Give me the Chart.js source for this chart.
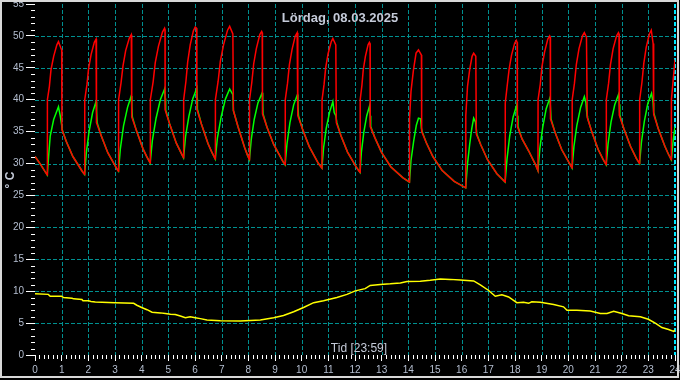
<!DOCTYPE html>
<html><head><meta charset="utf-8">
<script src="https://cdn.jsdelivr.net/npm/chart.js@4/dist/chart.umd.min.js"></script>
<style>html,body{margin:0;padding:0;background:#000;}#wrap{width:680px;height:380px;}</style>
</head><body><div id="wrap"><canvas id="c" width="680" height="380"></canvas></div>
<script>
const titleText = 'Lördag, 08.03.2025';
const xAxisText = 'Tid [23:59]';
const yAxisText = '° C';
const hourTicks = [0,1,2,3,4,5,6,7,8,9,10,11,12,13,14,15,16,17,18,19,20,21,22,23,24];
const tempGridValues = [5,10,15,20,25,30,35,40,45,50];

// red series [hour, °C]
const redSeries = [
[0,31.1],[0.2,29.9],[0.46,28.2],
[0.465,40],[0.54,42.1],[0.6,44.7],[0.7,46.8],[0.82,48.6],[0.88,49.1],[0.97,48.1],[1.0,47.8],[1.01,35.3],
[1.17,33.5],[1.42,31.1],[1.77,28.8],[1.86,28.3],
[1.865,40],[1.95,42.4],[2.01,44.9],[2.105,47.1],[2.225,49.0],[2.29,49.5],[2.3,49.3],[2.31,36.4],
[2.48,34.4],[2.73,31.7],[3.08,29.1],[3.13,28.8],
[3.135,40],[3.225,42.6],[3.3,45.3],[3.4,47.7],[3.54,49.7],[3.61,50.2],[3.625,50.0],[3.63,37.3],
[3.8,35.2],[4.05,32.3],[4.2,31.0],[4.32,30.1],
[4.325,40],[4.43,42.8],[4.51,45.8],[4.63,48.4],[4.78,50.6],[4.86,51.2],[4.875,51.0],[4.88,38.4],
[5.05,36.2],[5.3,33.2],[5.45,31.9],[5.57,30.9],
[5.575,40],[5.66,42.9],[5.725,45.9],[5.82,48.6],[5.94,50.8],[6.01,51.4],[6.06,51.2],[6.07,38.5],
[6.24,36.2],[6.49,33.1],[6.64,31.7],[6.76,30.7],
[6.765,40],[6.868,42.9],[6.95,46.0],[7.07,48.6],[7.22,50.9],[7.3,51.5],[7.42,50.3],[7.44,38.3],
[7.61,35.8],[7.86,32.5],[7.96,31.4],[8.04,30.6],
[8.045,40],[8.13,42.7],[8.2,45.6],[8.3,48.0],[8.43,50.2],[8.5,50.7],[8.52,50.5],[8.53,37.8],
[8.7,35.7],[8.95,33.0],[9.3,30.3],[9.38,29.8],
[9.385,40],[9.47,42.6],[9.54,45.5],[9.64,47.9],[9.76,50.0],[9.83,50.5],[9.85,50.3],[9.86,37.5],
[10.03,35.4],[10.28,32.7],[10.63,30.0],[10.76,29.3],
[10.765,40],[10.84,42.4],[10.9,45.0],[10.99,47.2],[11.11,49.1],[11.17,49.6],[11.28,48.6],[11.3,36.4],
[11.47,34.4],[11.72,31.8],[12.07,29.3],[12.19,28.6],
[12.195,40],[12.26,42.3],[12.31,44.7],[12.39,46.8],[12.49,48.6],[12.54,49.0],[12.565,48.8],[12.57,35.8],
[12.74,34.1],[12.99,31.8],[13.34,29.5],[13.79,27.8],[14.04,27.1],
[14.045,37],[14.1,41.3],[14.19,44.6],[14.29,47.3],[14.38,47.8],[14.45,47.3],[14.49,47.0],[14.5,35.0],
[14.67,33.3],[14.92,31.1],[15.27,28.9],[15.72,27.2],[16.15,26.2],
[16.155,37.5],[16.22,42.1],[16.3,44.7],[16.39,46.8],[16.45,47.3],[16.53,46.8],[16.55,34.6],
[16.72,32.9],[16.97,30.6],[17.32,28.4],[17.63,27.1],
[17.635,39.5],[17.71,42.3],[17.78,44.8],[17.87,47.0],[17.99,48.9],[18.05,49.3],[18.08,49.0],[18.09,35.8],
[18.26,33.9],[18.51,32.0],[18.75,30.0],[18.86,28.9],
[18.865,40],[18.95,42.5],[19.01,45.2],[19.11,47.5],[19.23,49.5],[19.3,50.0],[19.32,49.8],[19.33,37.0],
[19.5,34.9],[19.75,32.2],[20.1,29.6],[20.14,29.3],
[20.145,40],[20.23,42.6],[20.3,45.5],[20.4,48.0],[20.53,50.0],[20.6,50.5],[20.68,49.8],[20.71,37.2],
[20.87,35.1],[21.12,32.2],[21.3,30.7],[21.42,29.8],
[21.425,40],[21.51,42.6],[21.58,45.5],[21.68,48.0],[21.81,50.0],[21.88,50.5],[21.9,50.3],[21.91,37.6],
[22.08,35.5],[22.33,32.7],[22.55,30.8],[22.67,30.0],
[22.675,40],[22.76,42.7],[22.83,45.7],[22.92,48.2],[23.04,50.3],[23.11,50.9],[23.18,48.8],[23.2,37.7],
[23.37,35.5],[23.62,32.7],[23.75,31.5],[23.86,30.6],
[23.865,40],[23.93,43.0],[24.0,46.3]
];

// green series [hour, °C]
const greenSeries = [
[0,31.1],[0.2,29.9],[0.46,28.2],
[0.51,31.1],[0.57,34.3],[0.7,36.9],[0.88,38.9],[0.95,37.4],[1.0,36.0],[1.02,35.3],
[1.17,33.5],[1.42,31.1],[1.77,28.8],[1.86,28.3],
[1.925,31.7],[2.03,35.1],[2.16,38.0],[2.29,39.7],[2.31,38.2],[2.33,36.4],
[2.48,34.4],[2.73,31.7],[3.08,29.1],[3.13,28.8],
[3.2,32.3],[3.32,35.9],[3.47,38.8],[3.61,40.6],[3.63,39.0],[3.65,37.3],
[3.8,35.2],[4.05,32.3],[4.2,31.0],[4.32,30.1],
[4.4,33.6],[4.54,37.1],[4.7,40.0],[4.86,41.7],[4.88,40.2],[4.9,38.4],
[5.05,36.2],[5.3,33.2],[5.45,31.9],[5.57,30.9],
[5.645,34.2],[5.77,37.4],[5.92,40.2],[6.07,41.8],[6.08,40.2],[6.09,38.5],
[6.24,36.2],[6.49,33.1],[6.64,31.7],[6.76,30.7],
[6.84,34.0],[6.98,37.3],[7.14,40.1],[7.3,41.7],[7.42,40.8],[7.44,38.3],
[7.61,35.8],[7.86,32.5],[7.96,31.4],[8.04,30.6],
[8.11,33.8],[8.22,36.9],[8.36,39.5],[8.52,41.1],[8.54,39.5],[8.55,37.8],
[8.7,35.7],[8.95,33.0],[9.3,30.3],[9.38,29.8],
[9.45,33.1],[9.56,36.4],[9.7,39.2],[9.84,40.8],[9.86,39.2],[9.88,37.5],
[10.03,35.4],[10.28,32.7],[10.63,30.0],[10.76,29.3],
[10.82,32.4],[10.92,35.5],[11.05,38.1],[11.17,39.7],[11.22,38.0],[11.28,37.5],[11.32,36.4],
[11.47,34.4],[11.72,31.8],[12.07,29.3],[12.19,28.6],
[12.24,31.8],[12.33,34.9],[12.44,37.5],[12.55,39.1],[12.57,37.5],[12.59,35.8],
[12.74,34.1],[12.99,31.8],[13.34,29.5],[13.79,27.8],[14.04,27.1],
[14.1,30.5],[14.2,33.5],[14.3,36.0],[14.38,37.1],[14.46,37.0],[14.49,35.5],[14.52,35.0],
[14.67,33.3],[14.92,31.1],[15.27,28.9],[15.72,27.2],[16.15,26.2],
[16.22,30.0],[16.3,33.0],[16.38,35.5],[16.45,37.1],[16.52,36.5],[16.57,34.6],
[16.72,32.9],[16.97,30.6],[17.32,28.4],[17.63,27.1],
[17.7,30.7],[17.8,34.3],[17.93,37.3],[18.06,39.1],[18.09,37.5],[18.11,35.8],
[18.26,33.9],[18.51,32.0],[18.75,30.0],[18.86,28.9],
[18.93,32.3],[19.04,35.7],[19.17,38.6],[19.31,40.3],[19.33,38.7],[19.35,37.0],
[19.5,34.9],[19.75,32.2],[20.1,29.6],[20.14,29.3],
[20.21,32.7],[20.32,36.0],[20.46,38.8],[20.6,40.5],[20.66,39.5],[20.7,37.5],[20.72,37.2],
[20.87,35.1],[21.12,32.2],[21.3,30.7],[21.42,29.8],
[21.49,33.1],[21.6,36.5],[21.74,39.2],[21.89,40.9],[21.91,39.3],[21.93,37.6],
[22.08,35.5],[22.33,32.7],[22.55,30.8],[22.67,30.0],
[22.74,33.3],[22.85,36.6],[22.98,39.4],[23.12,41.0],[23.18,39.5],[23.2,38.0],[23.22,37.7],
[23.37,35.5],[23.62,32.7],[23.75,31.5],[23.86,30.6],
[23.93,33.5],[24.0,35.8]
];

// yellow series [hour, °C]
const yellowSeries = [
[0,9.6],[0.5,9.5],[0.57,9.2],[1.0,9.2],[1.07,9.0],[1.39,8.9],[1.45,8.8],[1.76,8.7],[1.8,8.5],[2.01,8.5],
[2.1,8.4],[2.26,8.3],[3.0,8.2],[3.7,8.1],[3.82,7.8],[4.0,7.45],[4.2,7.1],[4.39,6.7],[4.7,6.6],[4.89,6.5],
[5.08,6.4],[5.26,6.35],[5.45,6.1],[5.64,5.85],[5.82,6.0],[6.01,5.85],[6.2,5.7],[6.45,5.5],[6.95,5.37],[7.7,5.33],
[8.45,5.5],[8.95,5.85],[9.32,6.2],[9.7,6.77],[10.07,7.45],[10.45,8.2],[10.82,8.5],[11.32,9.0],[11.7,9.5],[12.01,10.05],
[12.38,10.4],[12.57,10.9],[12.95,11.05],[13.32,11.15],[13.7,11.3],[13.95,11.5],[14.45,11.55],[14.82,11.7],[15.2,11.9],[15.57,11.85],
[15.95,11.75],[16.45,11.6],[16.7,11.0],[17.0,10.15],[17.26,9.2],[17.51,9.45],[17.76,9.1],[18.07,8.2],[18.32,8.25],[18.51,8.1],
[18.63,8.35],[18.95,8.25],[19.45,7.9],[19.82,7.55],[19.95,7.0],[20.32,7.0],[20.82,6.9],[21.2,6.5],[21.45,6.5],[21.7,6.85],
[22.01,6.5],[22.26,6.15],[22.7,6.0],[23.0,5.6],[23.26,5.0],[23.51,4.3],[23.76,4.0],[23.95,3.7],[24,3.9]
];

const toPts = s => s.map(p => ({x: p[0], y: p[1]}));
const labelColor = '#b4bed0';
const gridColor = '#009090';
const fontFam = '"Liberation Sans", Arial, sans-serif';

const extras = {
  id: 'extras',
  beforeDraw(chart) {
    const c = chart.ctx;
    c.save(); c.fillStyle = '#000'; c.fillRect(0, 0, chart.width, chart.height); c.restore();
  },
  beforeDatasetsDraw(chart) {
    const c = chart.ctx, a = chart.chartArea, xs = chart.scales.x, ys = chart.scales.y;
    c.save();
    c.lineWidth = 1; c.setLineDash([4, 2]);
    c.strokeStyle = gridColor;
    c.beginPath();
    tempGridValues.forEach(v => {
      const py = Math.round(ys.getPixelForValue(v)) + 0.5;
      c.moveTo(a.left, py); c.lineTo(a.right, py);
    });
    hourTicks.forEach(h => {
      if (h === 0 || h === 24) return;
      const px = Math.round(xs.getPixelForValue(h)) + 0.5;
      c.moveTo(px, a.top); c.lineTo(px, a.bottom);
    });
    c.stroke();
    c.strokeStyle = '#00e8ff'; c.lineWidth = 2;
    c.beginPath();
    const pe = Math.round(xs.getPixelForValue(24));
    c.moveTo(pe, a.top); c.lineTo(pe, a.bottom);
    c.stroke();
    c.restore();
  },
  afterDraw(chart) {
    const c = chart.ctx, a = chart.chartArea, xs = chart.scales.x, ys = chart.scales.y;
    c.save();
    // minor ticks
    c.strokeStyle = '#ffffff'; c.lineWidth = 1; c.beginPath();
    for (let v = 0; v <= 55; v++) {
      if (v % 5 === 0) continue;
      const py = Math.round(ys.getPixelForValue(v)) + 0.5;
      c.moveTo(a.left - 4, py); c.lineTo(a.left, py);
    }
    for (let i = 0; i <= 144; i++) {
      if (i % 6 === 0) continue;
      const px = Math.round(xs.getPixelForValue(i / 6)) + 0.5;
      c.moveTo(px, a.bottom); c.lineTo(px, a.bottom + 4);
    }
    c.stroke();
    // texts
    c.fillStyle = '#c4cad8';
    c.textAlign = 'center'; c.textBaseline = 'middle';
    c.font = 'bold 13px ' + fontFam;
    c.fillText(titleText, 340, 18);
    c.font = '12px ' + fontFam;
    c.fillText(xAxisText, (a.left + a.right) / 2 + 4, 349);
    c.save();
    c.translate(11, 180); c.rotate(-Math.PI / 2);
    c.font = 'bold 12px ' + fontFam;
    c.fillText(yAxisText, 0, 0);
    c.restore();
    // frame
    c.strokeStyle = '#d8d8d8'; c.lineWidth = 2;
    c.strokeRect(1, 1, chart.width - 3, chart.height - 4);
    c.restore();
  }
};

new Chart(document.getElementById('c'), {
  type: 'line',
  data: {
    datasets: [
      {data: toPts(redSeries), borderColor: '#ff0000', borderWidth: 1.5, pointRadius: 0, tension: 0},
      {data: toPts(greenSeries), borderColor: '#00ff00', borderWidth: 1.5, pointRadius: 0, tension: 0},
      {data: toPts(yellowSeries), borderColor: '#ffff00', borderWidth: 1.5, pointRadius: 0, tension: 0}
    ]
  },
  options: {
    responsive: false, animation: false, devicePixelRatio: 1,
    parsing: false, normalized: true,
    layout: {padding: {top: 4, right: 5, left: 0, bottom: 0}},
    plugins: {legend: {display: false}, tooltip: {enabled: false}, title: {display: false}},
    scales: {
      x: {
        type: 'linear', min: 0, max: 24,
        afterFit(s) { s.height = 25; s.paddingLeft = 0; s.paddingRight = 0; },
        afterBuildTicks(s) { s.ticks = hourTicks.map(v => ({value: v})); },
        ticks: {color: labelColor, font: {size: 10, family: fontFam}, padding: 3, maxRotation: 0, autoSkip: false,
                callback: v => String(v)},
        grid: {drawOnChartArea: false, tickColor: '#ffffff', tickLength: 6, tickWidth: 1, drawTicks: true},
        border: {display: false}
      },
      y: {
        min: 0, max: 55,
        afterFit(s) { s.width = 35; s.paddingTop = 0; s.paddingBottom = 0; },
        ticks: {stepSize: 5, color: labelColor, font: {size: 10, family: fontFam}, padding: 2},
        grid: {drawOnChartArea: false, tickColor: '#ffffff', tickLength: 9, tickWidth: 1, drawTicks: true},
        border: {display: false}
      }
    }
  },
  plugins: [extras]
});
</script>
</body></html>
